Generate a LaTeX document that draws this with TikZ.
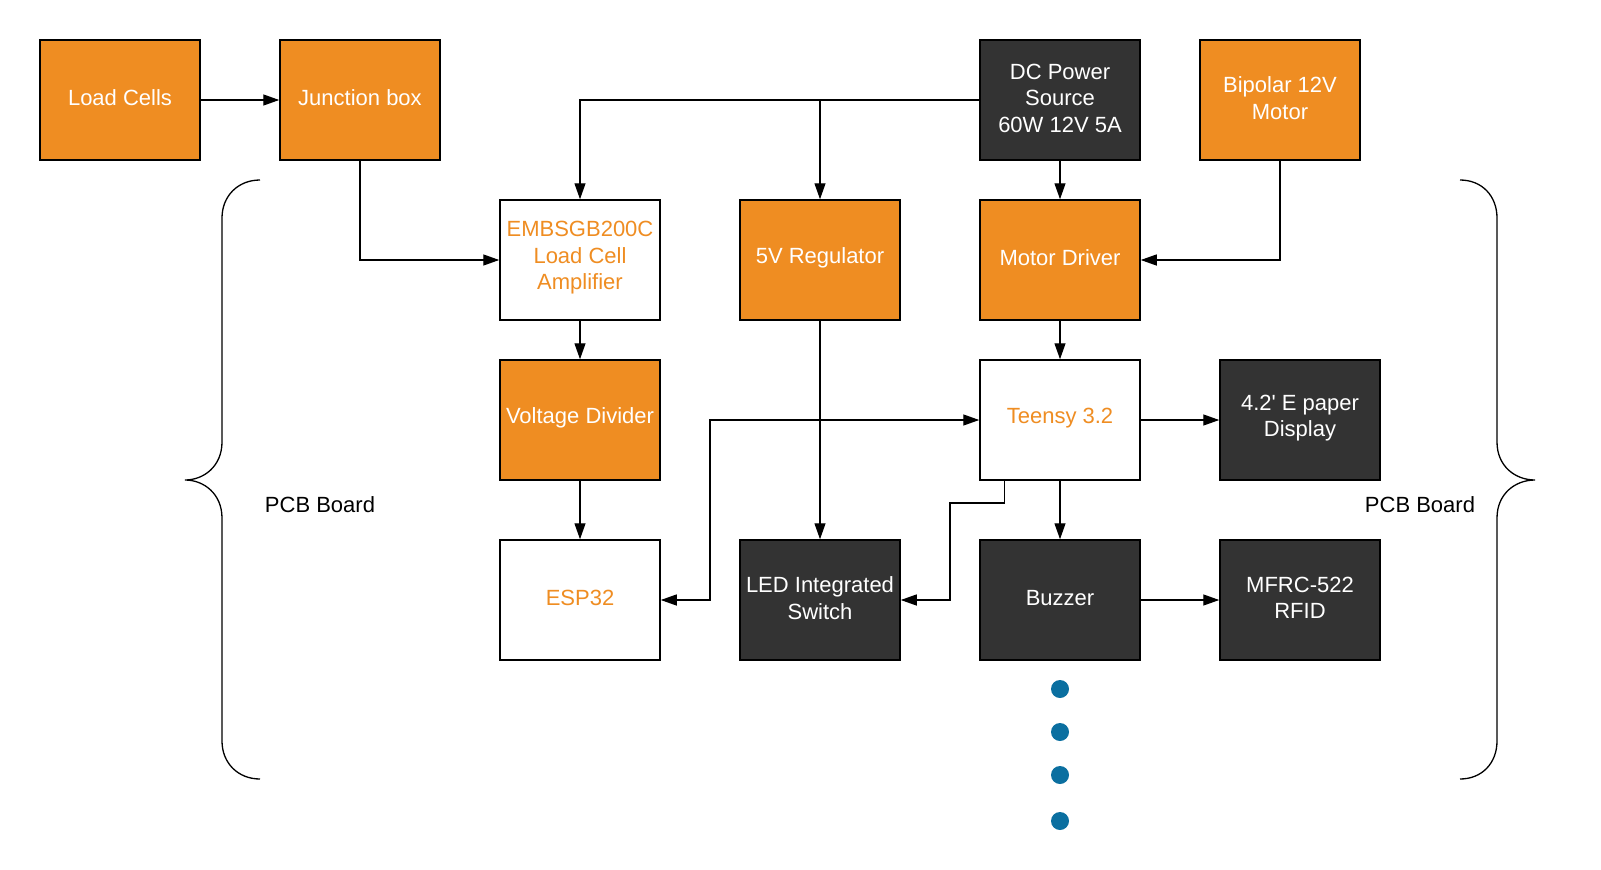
\documentclass[tikz,border=0pt]{standalone}
\usepackage{fontspec}
\setmainfont{Liberation Sans}[Ligatures=TeXOff]
\usetikzlibrary{arrows.meta}
\definecolor{org}{HTML}{EF8D22}
\definecolor{drk}{HTML}{333333}
\definecolor{dotc}{HTML}{0B6FA0}
\begin{document}
\begin{tikzpicture}[x=1pt,y=-1pt,
  box/.style={rectangle, draw=black, line width=1.5pt, minimum width=160pt, minimum height=120pt, inner sep=0pt},
  ob/.style={box, fill=org},
  db/.style={box, fill=drk},
  wb/.style={box, fill=white},
  txt/.style={inner sep=0pt, align=center, font=\fontsize{22}{26.5}\selectfont},
  wt/.style={txt, text=white},
  ot/.style={txt, text=org},
  conn/.style={line width=1.3pt, draw=black},
  arr/.style={conn, -{Triangle[length=16pt,width=11pt]}},
  arrB/.style={conn, {Triangle[length=16pt,width=11pt]}-{Triangle[length=16pt,width=11pt]}},
  brace/.style={line width=1.3pt, draw=black},
  lbl/.style={font=\fontsize{22}{26.5}\selectfont, text=black},
  dot/.style={circle, fill=dotc, minimum size=18pt, inner sep=0pt}
]
\useasboundingbox (0,0) rectangle (1601,870);

\node[ob] (lc) at (120,100) {};
\node[ob] (jb) at (360,100) {};
\node[db] (dc) at (1060,100) {};
\node[ob] (bip) at (1280,100) {};
\node[wb] (amp) at (580,260) {};
\node[ob] (reg) at (820,260) {};
\node[ob] (md) at (1060,260) {};
\node[ob] (vd) at (580,420) {};
\node[wb] (teensy) at (1060,420) {};
\node[db] (disp) at (1300,420) {};
\node[wb] (esp) at (580,600) {};
\node[db] (led) at (820,600) {};
\node[db] (buzz) at (1060,600) {};
\node[db] (rfid) at (1300,600) {};

\node[wt] (lct) at ([yshift=2pt]lc.center) {Load Cells};
\node[wt] (jbt) at ([yshift=2pt]jb.center) {Junction box};
\node[wt] (dct) at ([yshift=2pt]dc.center) {DC Power\\Source\\60W 12V 5A};
\node[wt] (bipt) at ([yshift=2pt]bip.center) {Bipolar 12V\\Motor};
\node[ot] (ampt) at ([yshift=2pt]amp.center) {EMBSGB200C\\Load Cell\\Amplifier};
\node[wt] (regt) at ([yshift=2pt]reg.center) {5V Regulator};
\node[wt] (mdt) at ([yshift=2pt]md.center) {Motor Driver};
\node[wt] (vdt) at ([yshift=2pt]vd.center) {Voltage Divider};
\node[ot] (teensyt) at ([yshift=2pt]teensy.center) {Teensy 3.2};
\node[wt] (dispt) at ([yshift=2pt]disp.center) {4.2' E paper\\Display};
\node[ot] (espt) at ([yshift=2pt]esp.center) {ESP32};
\node[wt] (ledt) at ([yshift=2pt]led.center) {LED Integrated\\Switch};
\node[wt] (buzzt) at ([yshift=2pt]buzz.center) {Buzzer};
\node[wt] (rfidt) at ([yshift=2pt]rfid.center) {MFRC-522\\RFID};

\node[lbl] (pcbl) at (320,505) {PCB Board};
\node[lbl] (pcbr) at (1420,505) {PCB Board};

\node[dot] (d1) at (1060,689) {};
\node[dot] (d2) at (1060,732) {};
\node[dot] (d3) at (1060,775) {};
\node[dot] (d4) at (1060,821) {};

% braces
\draw[brace] (260,180) .. controls (238,180) and (222,196) .. (222,218)
  -- (222,442) .. controls (222,466) and (204,480) .. (185,480)
  .. controls (204,480) and (222,494) .. (222,518)
  -- (222,741) .. controls (222,763) and (238,779) .. (260,779);
\draw[brace] (1460,180) .. controls (1482,180) and (1497,196) .. (1497,218)
  -- (1497,442) .. controls (1497,466) and (1515,480) .. (1535,480)
  .. controls (1515,480) and (1497,494) .. (1497,518)
  -- (1497,741) .. controls (1497,763) and (1482,779) .. (1460,779);

% connectors
\coordinate (j1) at (reg.north |- dc.west);
\draw[arr] (lc) -- (jb);
\draw[arr] (jb.south) |- (amp.west);
\draw[arr] (dc.west) -| (amp.north);
\draw[arr] (j1) -- (reg.north);
\draw[arr] (dc) -- (md);
\draw[arr] (bip.south) |- (md.east);
\draw[arr] (amp) -- (vd);
\draw[arr] (vd) -- (esp);
\draw[arr] (md) -- (teensy);
\draw[arr] (reg) -- (led);
\draw[arrB] (teensy.west) -- (710,420) -- (710,600) -- (esp.east);
\draw[arr] ([xshift=25pt]teensy.south west) |- (950,503) |- (led.east);
\draw[arr] (teensy) -- (disp);
\draw[arr] (teensy) -- (buzz);
\draw[arr] (buzz) -- (rfid);
\end{tikzpicture}
\end{document}
